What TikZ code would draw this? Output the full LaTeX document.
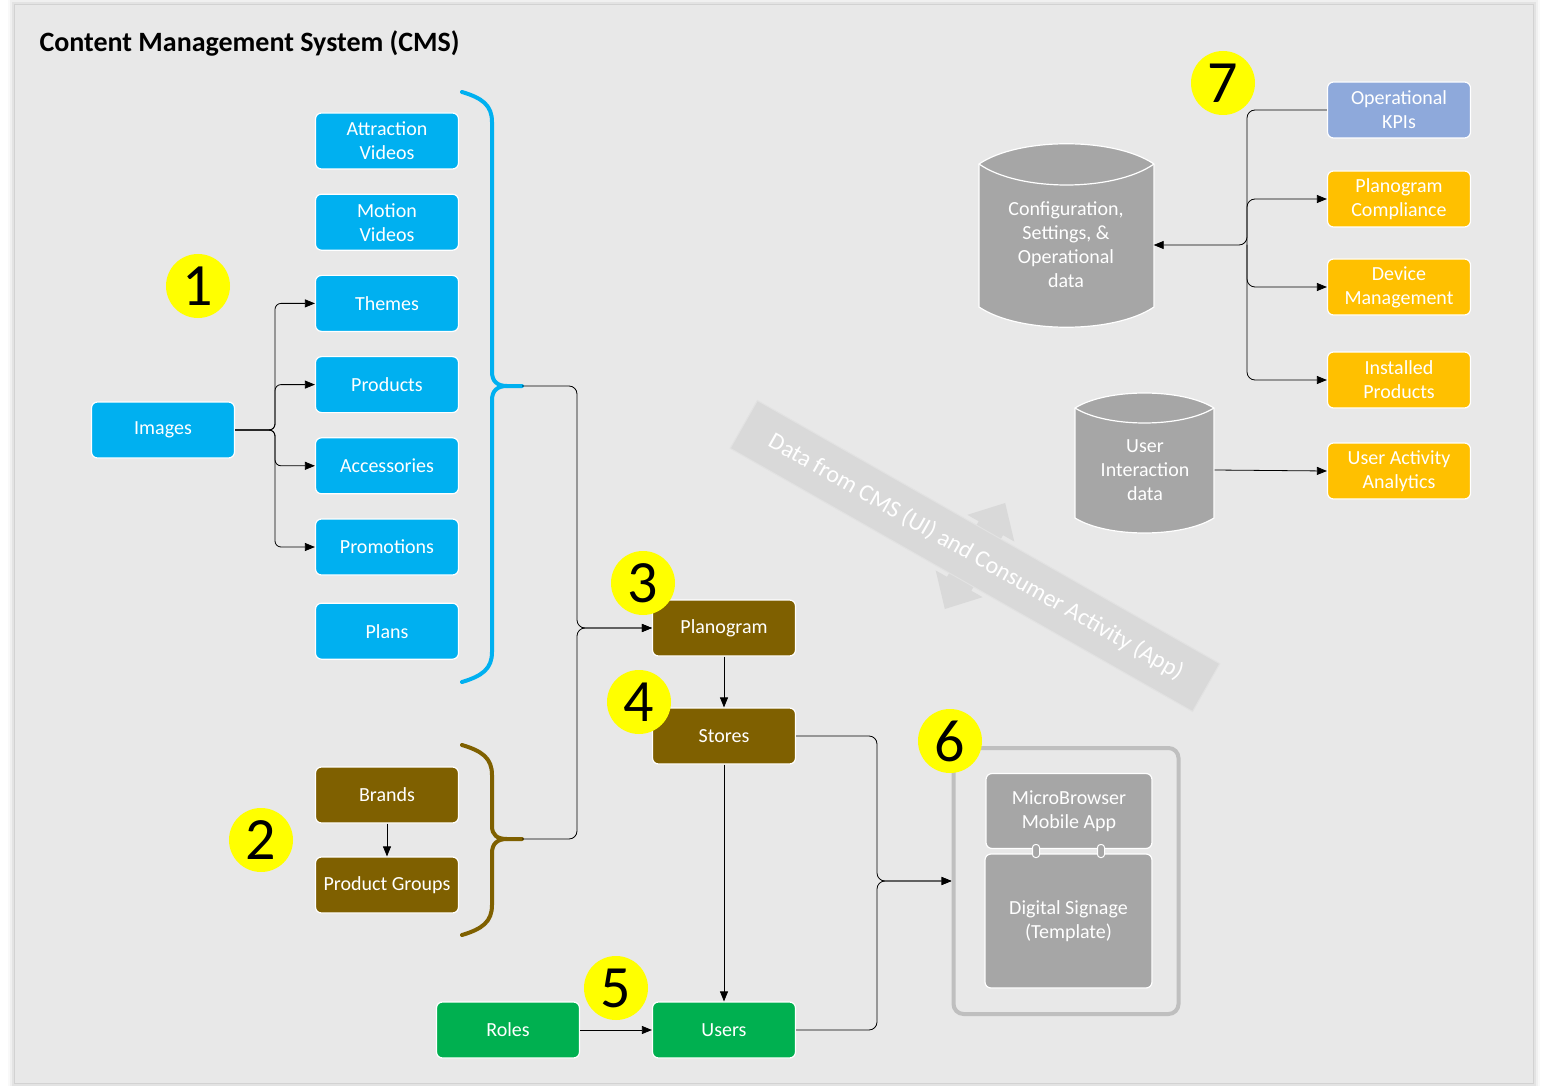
\documentclass[tikz,border=0pt]{standalone}
\usepackage{fontspec}
\setmainfont{Carlito}
\usetikzlibrary{positioning, arrows.meta, calc}

\definecolor{canvas}{HTML}{E8E8E8}
\definecolor{cmsBlue}{HTML}{00B0F0}
\definecolor{cmsBrown}{HTML}{7F6000}
\definecolor{cmsGreen}{HTML}{00B050}
\definecolor{cmsGold}{HTML}{FFC000}
\definecolor{kpiBlue}{HTML}{8EA9DB}
\definecolor{dbGray}{HTML}{A6A6A6}
\definecolor{bandGray}{HTML}{D9D9D9}
\definecolor{frameGray}{HTML}{BFBFBF}
\definecolor{badgeYellow}{HTML}{FFFF00}

\begin{document}
\begin{tikzpicture}[
    x=1pt, y=-1pt,
    font=\fontsize{20}{24}\selectfont,
    box/.style={
        draw=white, line width=1.2pt, rounded corners=6pt,
        minimum width=143pt, minimum height=56pt, inner sep=2pt,
        align=center, text=white
    },
    media/.style={box, fill=cmsBlue},
    brand/.style={box, fill=cmsBrown},
    people/.style={box, fill=cmsGreen},
    report/.style={box, fill=cmsGold},
    badge/.style={circle, fill=badgeYellow, minimum size=64pt, inner sep=0pt,
        font=\fontsize{60}{60}\selectfont},
    conn/.style={-{Triangle[length=10pt, width=8pt]}, line width=0.8pt, black},
    brace/.style={line width=4pt, line cap=round},
    dbshape/.style={fill=dbGray, draw=white, line width=1.2pt},
    dbtext/.style={align=center, text=white, inner sep=0pt}
]
\useasboundingbox (0,0) rectangle (1543,1086);
\fill[white] (0,0) rectangle (1543,1086);

% Canvas with soft shadow
\foreach \s/\o in {7/0.025, 5/0.035, 3/0.05, 1/0.07}
    \fill[black, opacity=\o] (15-\s,5-\s) rectangle (1533+\s,1083+\s);
\fill[canvas] (15,5) rectangle (1533,1083);

\node[anchor=west, font=\fontsize{28}{32}\selectfont\bfseries] (title) at (36,43)
    {Content Management System (CMS)};

%%%%%%%%%%%%%%%%%%%%%
% Data band with double arrow
%%%%%%%%%%%%%%%%%%%%%
\begin{scope}[shift={(975,556)}, rotate=-29.65]
    \fill[bandGray] (0,-61) -- (27,-32) -- (14,-32) -- (14,32) -- (27,32) -- (0,61)
        -- (-27,32) -- (-14,32) -- (-14,-32) -- (-27,-32) -- cycle;
    \path[fill=bandGray, draw=canvas!60!bandGray, line width=1pt]
        (-266,-27.5) rectangle (266,27.5);
\end{scope}
\node[text=white, rotate=-29.65, font=\fontsize{24}{28}\selectfont] (bandtext) at (976,557)
    {Data from CMS (UI) and Consumer Activity (App)};

%%%%%%%%%%%%%%%%%%%%%
% Media column
%%%%%%%%%%%%%%%%%%%%%
\begin{scope}[node distance=24pt]
    \node[media] (attract) at (387,141) {Attraction\\Videos};
    \node[media, below=of attract] (motion) {Motion\\Videos};
    \node[media, below=of motion] (themes) {Themes};
    \node[media, below=of themes] (products) {Products};
    \node[media, below=of products] (access) {Accessories};
    \node[media, below=of access] (promo) {Promotions};
    \node[media, below=27pt of promo] (plans) {Plans};
\end{scope}
\node[media] (images) at (163,430) {Images};

\coordinate (isplit) at (275,430);
\foreach \t in {themes, products, access, promo}
    \draw[conn, rounded corners=6pt] (images.east) -- (isplit) |- (\t.west);

% Media brace
\draw[brace, cmsBlue]
    (462,92) .. controls (482,98) and (492,105) .. (492,122) -- (492,372)
    .. controls (492,381) and (497,386) .. (507,386) -- (522,386);
\draw[brace, cmsBlue]
    (507,386) .. controls (497,386) and (492,391) .. (492,400) -- (492,652)
    .. controls (492,669) and (482,676) .. (462,682);
\coordinate (mediatip) at (522,386);

%%%%%%%%%%%%%%%%%%%%%
% Brands
%%%%%%%%%%%%%%%%%%%%%
\node[brand] (brands) at (387,795) {Brands};
\node[brand] (groups) at (387,885) {Product Groups};
\draw[conn] (brands) -- (groups);

\draw[brace, cmsBrown]
    (462,745) .. controls (482,751) and (492,758) .. (492,775) -- (492,826)
    .. controls (492,835) and (497,839) .. (507,839) -- (522,839);
\draw[brace, cmsBrown]
    (507,839) .. controls (497,839) and (492,844) .. (492,853) -- (492,905)
    .. controls (492,922) and (482,929) .. (462,935);
\coordinate (brandtip) at (522,839);

%%%%%%%%%%%%%%%%%%%%%
% Planogram flow
%%%%%%%%%%%%%%%%%%%%%
\node[brand] (plano) at (724,628) {Planogram};
\node[brand] (stores) at (724,736) {Stores};
\node[people] (users) at (724,1030) {Users};
\node[people] (roles) at (508,1030) {Roles};

\coordinate (pmerge) at (577,628);
\draw[conn, rounded corners=8pt] (mediatip) -| (pmerge) -- (plano.west);
\draw[conn, rounded corners=8pt] (brandtip) -| (pmerge) -- (plano.west);
\draw[conn] (plano) -- (stores);
\draw[conn] (stores) -- (users);
\draw[conn] (roles) -- (users);

%%%%%%%%%%%%%%%%%%%%%
% Signage device
%%%%%%%%%%%%%%%%%%%%%
\node[draw=frameGray, line width=4pt, rounded corners=10pt, fill=canvas,
    minimum width=225pt, minimum height=266pt] (signage) at (1066,881) {};
\node[box, fill=dbGray, minimum width=166pt, minimum height=75pt, text=white] (micro)
    at (1069,811) {MicroBrowser\\Mobile App};
\node[box, fill=dbGray, minimum width=167pt, minimum height=134pt, text=white] (digital)
    at (1068.5,921) {Digital Signage\\(Template)};
\foreach \x in {1036, 1101}
    \node[draw=white, fill=dbGray, line width=1pt, rounded corners=3pt,
        minimum width=7pt, minimum height=13pt, inner sep=0pt] at (\x,851) {};

\coordinate (smerge) at (877,881);
\draw[conn, rounded corners=8pt] (stores.east) -| (smerge) -- (signage.west);
\draw[conn, rounded corners=8pt] (users.east) -| (smerge) -- (signage.west);

%%%%%%%%%%%%%%%%%%%%%
% Data stores
%%%%%%%%%%%%%%%%%%%%%
\path[dbshape] (979,164) .. controls (1019,137) and (1114,137) .. (1154,164)
    -- (1154,307) .. controls (1114,334) and (1019,334) .. (979,307) -- cycle;
\draw[white, line width=1.2pt] (979,164) .. controls (1019,192) and (1114,192) .. (1154,164);
\node[dbtext, minimum width=175pt] (config) at (1066,245)
    {Configuration,\\Settings, \&\\Operational\\data};

\path[dbshape] (1075,408) .. controls (1107,388) and (1182,388) .. (1214,408)
    -- (1214,518) .. controls (1182,538) and (1107,538) .. (1075,518) -- cycle;
\draw[white, line width=1.2pt] (1075,408) .. controls (1107,428) and (1182,428) .. (1214,408);
\node[dbtext, minimum width=139pt] (uidata) at (1145,470)
    {User\\Interaction\\data};

%%%%%%%%%%%%%%%%%%%%%
% Reports
%%%%%%%%%%%%%%%%%%%%%
\node[box, fill=kpiBlue] (kpi) at (1399,110) {Operational\\KPIs};
\node[report] (comply) at (1399,199) {Planogram\\Compliance};
\node[report] (device) at (1399,287) {Device\\Management};
\node[report] (installed) at (1399,380) {Installed\\Products};
\node[report] (activity) at (1399,471) {User Activity\\Analytics};

\coordinate (kjoin) at (1247,245);
\draw[conn, rounded corners=8pt] (kpi.west) -| (kjoin) -- (config.east);
\foreach \t in {comply, device, installed}
    \draw[conn, rounded corners=8pt] (kjoin) |- (\t.west);
\draw[conn] (uidata.east) -- (activity.west);

%%%%%%%%%%%%%%%%%%%%%
% Step badges
%%%%%%%%%%%%%%%%%%%%%
\node[badge] (b1) at (198,286) {1};
\node[badge] (b2) at (261,840) {2};
\node[badge] (b3) at (643,583) {3};
\node[badge] (b4) at (639,702) {4};
\node[badge] (b5) at (616,988) {5};
\node[badge] (b6) at (950,741) {6};
\node[badge] (b7) at (1223,83) {7};

\end{tikzpicture}
\end{document}
